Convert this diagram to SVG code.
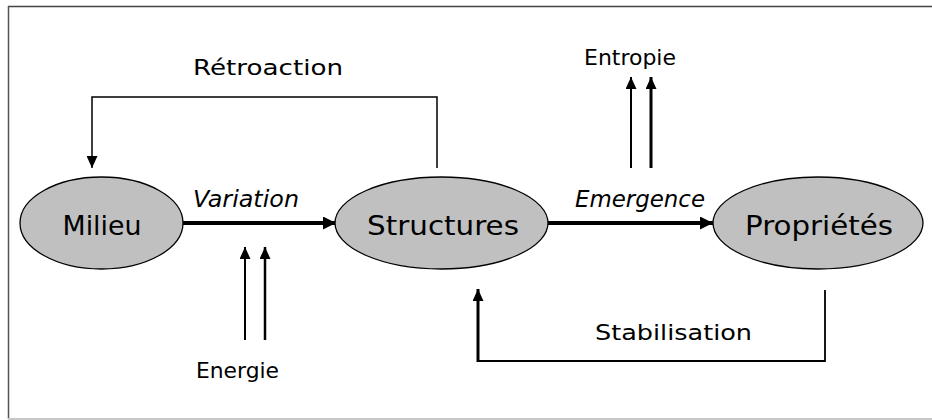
<svg xmlns="http://www.w3.org/2000/svg" width="932" height="420" viewBox="0 0 932 420">
<defs>
<style>
.node{fill:#c0c0c0;stroke:#000;stroke-width:1.3}
.lbl{font-family:"DejaVu Sans","Liberation Sans",sans-serif;fill:#000;text-anchor:middle}
.nl{font-size:27px}
.sl{font-size:21px}
.il{font-size:23px;font-style:italic}
.ln{fill:none;stroke:#000}
</style>
<marker id="ah" viewBox="0 0 10 10" refX="10" refY="5" markerWidth="12" markerHeight="11" markerUnits="userSpaceOnUse" orient="auto" preserveAspectRatio="none">
<path d="M0,0 L10,5 L0,10 Z" fill="#000"/>
</marker>
<marker id="ahb" viewBox="0 0 10 10" refX="10" refY="5" markerWidth="13" markerHeight="13" markerUnits="userSpaceOnUse" orient="auto" preserveAspectRatio="none">
<path d="M0,0 L10,5 L0,10 Z" fill="#000"/>
</marker>
</defs>
<rect width="932" height="420" fill="#fff"/>
<g id="frame">
<line x1="8" y1="6.5" x2="932" y2="6.5" stroke="#444" stroke-width="1.5"/>
<line x1="8.5" y1="6" x2="8.5" y2="419" stroke="#555" stroke-width="1.5"/>
<line x1="8" y1="419" x2="932" y2="419" stroke="#c8c8c8" stroke-width="2"/>
</g>
<g id="connectors">
<path class="ln" d="M437,168 L437,97 L92,97 L92,168" stroke-width="1.5" marker-end="url(#ah)"/>
<line class="ln" x1="183" y1="223" x2="336" y2="223" stroke-width="4" marker-end="url(#ahb)"/>
<line class="ln" x1="548" y1="223" x2="713" y2="223" stroke-width="4" marker-end="url(#ahb)"/>
<line class="ln" x1="245" y1="340" x2="245" y2="247" stroke-width="2" marker-end="url(#ah)"/>
<line class="ln" x1="265" y1="340" x2="265" y2="247" stroke-width="2.5" marker-end="url(#ah)"/>
<line class="ln" x1="631" y1="168" x2="631" y2="77" stroke-width="2" marker-end="url(#ah)"/>
<line class="ln" x1="651" y1="168" x2="651" y2="77" stroke-width="3" marker-end="url(#ah)"/>
<path class="ln" d="M825,290 L825,361 L478,361" stroke-width="1.8"/>
<line class="ln" x1="478" y1="362" x2="478" y2="289" stroke-width="3" marker-end="url(#ah)"/>
</g>
<g id="milieu">
<ellipse class="node" cx="101.5" cy="223" rx="81.5" ry="46"/>
<text class="lbl nl" x="102" y="235" textLength="79" lengthAdjust="spacingAndGlyphs">Milieu</text>
</g>
<g id="structures">
<ellipse class="node" cx="441.5" cy="223" rx="106.5" ry="46"/>
<text class="lbl nl" x="443" y="235" textLength="152" lengthAdjust="spacingAndGlyphs">Structures</text>
</g>
<g id="proprietes">
<ellipse class="node" cx="818" cy="223" rx="105" ry="46"/>
<text class="lbl nl" x="819" y="235" textLength="148" lengthAdjust="spacingAndGlyphs">Propriétés</text>
</g>
<g id="labels">
<text class="lbl sl" x="268" y="75" textLength="150" lengthAdjust="spacingAndGlyphs">Rétroaction</text>
<text class="lbl sl" x="630" y="65" textLength="92" lengthAdjust="spacingAndGlyphs">Entropie</text>
<text class="lbl sl" x="237.5" y="378" textLength="83" lengthAdjust="spacingAndGlyphs">Energie</text>
<text class="lbl sl" x="673.5" y="340" textLength="157" lengthAdjust="spacingAndGlyphs">Stabilisation</text>
<text class="lbl il" x="246" y="207" textLength="106" lengthAdjust="spacingAndGlyphs">Variation</text>
<text class="lbl il" x="640" y="207" textLength="130" lengthAdjust="spacingAndGlyphs">Emergence</text>
</g>
</svg>
